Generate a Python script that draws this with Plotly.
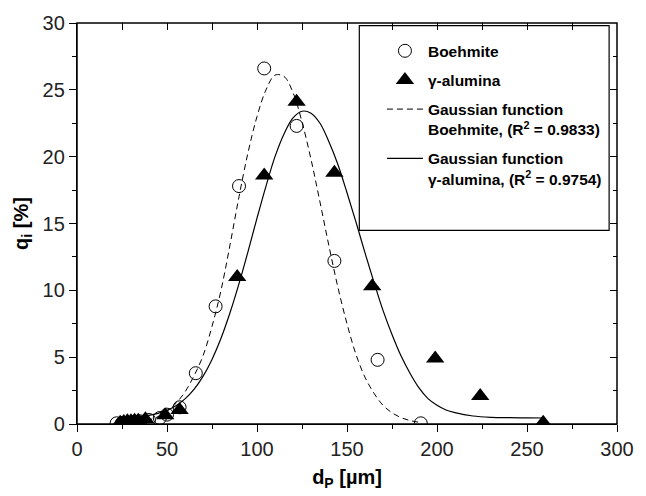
import plotly.graph_objects as go

# Measured data points
boeh_x = [22, 25, 28, 31, 35, 40, 46, 50, 57, 66, 77, 90, 104, 122, 143, 167, 191]
boeh_y = [0.05, 0.08, 0.1, 0.15, 0.2, 0.3, 0.45, 0.7, 1.25, 3.8, 8.8, 17.8, 26.6, 22.3, 12.2, 4.8, 0.05]

gam_x = [24, 26, 28, 30, 32, 34, 38, 49, 57, 89, 104, 122, 143, 164, 199, 224, 259]
gam_y = [0.1, 0.15, 0.2, 0.2, 0.25, 0.25, 0.35, 0.65, 1.05, 11.0, 18.6, 24.1, 18.8, 10.3, 4.9, 2.1, 0.1]

# Fitted curves
fitb_x = [22, 30, 35, 40, 45, 50, 55, 60, 65, 70, 75, 80, 85, 90, 95, 100, 105, 110, 115,
          120, 125, 130, 135, 140, 145, 150, 155, 160, 165, 170, 175, 180, 185, 190]
fitb_y = [0.03, 0.07, 0.15, 0.3, 0.55, 0.95, 1.55, 2.4, 3.6, 5.1, 7.3, 10.0, 13.4, 17.0, 20.3, 23.0, 25.0,
          26.1, 26.0, 24.8, 22.6, 19.8, 16.6, 13.3, 10.2, 7.5, 5.2, 3.5, 2.3, 1.4, 0.84, 0.48, 0.26, 0.13]

fitg_x = [24, 30, 35, 40, 45, 50, 55, 60, 65, 70, 75, 80, 85, 90, 95, 100, 105, 110, 115, 120, 125,
          130, 135, 140, 145, 150, 155, 160, 165, 170, 175, 180, 185, 190, 195, 200, 205, 210, 220,
          230, 240, 250, 260]
fitg_y = [0.48, 0.51, 0.57, 0.65, 0.8, 1.03, 1.37, 1.88, 2.59, 3.56, 4.83, 6.41, 8.32, 10.5, 12.9, 15.4,
          17.8, 20.0, 21.7, 22.9, 23.4, 23.25, 22.5, 21.1, 19.4, 17.3, 15.1, 12.8, 10.6, 8.5, 6.7, 5.1,
          3.8, 2.7, 1.9, 1.4, 1.05, 0.85, 0.6, 0.5, 0.47, 0.46, 0.45]

x_range = [0, 300]
y_range = [0, 30]

FONT = "Liberation Sans, Arial, sans-serif"

fig = go.Figure()
fig.add_trace(go.Scatter(x=boeh_x, y=boeh_y, mode="markers", name="<b>Boehmite</b>",
                         legendgroup="a",
                         marker=dict(symbol="circle-open", size=13, color="black",
                                     line=dict(width=1, color="black"))))
fig.add_trace(go.Scatter(x=gam_x, y=gam_y, mode="markers", name="<b>γ-alumina</b>",
                         legendgroup="b",
                         marker=dict(symbol="triangle-up", size=16, color="black")))
fig.add_trace(go.Scatter(x=fitb_x, y=fitb_y, mode="lines", legendgroup="c",
                         xaxis="x2", yaxis="y2",
                         name="<b>Gaussian function<br>Boehmite, (R<sup>2</sup> = 0.9833)</b>",
                         line=dict(color="black", width=1, dash="6px,4px", shape="spline")))
fig.add_trace(go.Scatter(x=fitg_x, y=fitg_y, mode="lines", legendgroup="d",
                         xaxis="x2", yaxis="y2",
                         name="<b>Gaussian function<br>γ-alumina, (R<sup>2</sup> = 0.9754)</b>",
                         line=dict(color="black", width=1.2, shape="spline")))

tickfont = dict(family=FONT, size=20, color="#222")
axis_common = dict(showgrid=False, zeroline=False, linecolor="black", linewidth=1.3,
                   tickwidth=1.3, tickcolor="black")
fig.update_layout(
    width=646, height=496,
    margin=dict(l=77, r=20, t=20, b=72),
    paper_bgcolor="white", plot_bgcolor="white",
    font=dict(family=FONT, color="black"),
    showlegend=True,
    legend=dict(x=0.5647, y=0.972, xanchor="left", yanchor="top",
                borderwidth=0, bgcolor="rgba(255,255,255,0)",
                font=dict(family=FONT, size=15.5, color="black"),
                valign="top", tracegroupgap=6, itemwidth=36),
    shapes=[dict(type="rect", xref="paper", yref="paper",
                 x0=0.5228, x1=0.9854, y0=0.4827, y1=0.9933,
                 line=dict(color="black", width=1.2), fillcolor="white", layer="below"),
            dict(type="rect", xref="paper", yref="paper", x0=0, x1=1, y0=0, y1=1,
                 line=dict(color="black", width=1.5), fillcolor="rgba(0,0,0,0)", layer="above")],
    xaxis=dict(range=x_range, dtick=50, **axis_common, showline=True,
               ticks="outside", ticklen=7, tickfont=tickfont,
               minor=dict(dtick=25, ticks="outside", ticklen=4, tickcolor="black", tickwidth=1.3),
               title=dict(text="<b>d<sub>P</sub> [µm]</b>", font=dict(family=FONT, size=20), standoff=10)),
    yaxis=dict(range=y_range, dtick=5, **axis_common, showline=True,
               ticks="outside", ticklen=7, tickfont=tickfont,
               minor=dict(dtick=2.5, ticks="outside", ticklen=4, tickcolor="black", tickwidth=1.3),
               title=dict(text="<b>q<sub>i</sub> [%]</b>", font=dict(family=FONT, size=20), standoff=8)),
    xaxis2=dict(range=x_range, dtick=50, overlaying="x", side="top", anchor="y2",
                **axis_common, showline=False, showticklabels=False, ticks="inside", ticklen=7,
                minor=dict(dtick=25, ticks="inside", ticklen=7, tickcolor="black", tickwidth=1.3)),
    yaxis2=dict(range=y_range, dtick=5, overlaying="y", side="right", anchor="x2",
                **axis_common, showline=False, showticklabels=False, ticks="inside", ticklen=7,
                minor=dict(dtick=2.5, ticks="inside", ticklen=4, tickcolor="black", tickwidth=1.3)),
)

fig.write_html("out.html")
